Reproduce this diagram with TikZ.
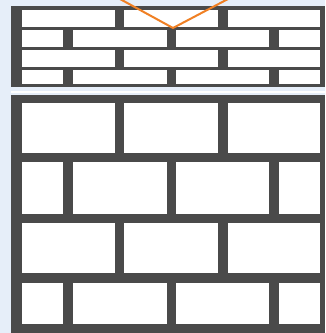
\documentclass[tikz,border=0pt]{standalone}
\begin{document}
\begin{tikzpicture}[x=1pt,y=-1pt]
\definecolor{bgblue}{HTML}{E6EEF9}
\definecolor{mortar}{HTML}{4A4A4A}
\definecolor{vline}{HTML}{F08024}
\tikzset{brick/.style={fill=white,draw=none}}
\useasboundingbox (0,0) rectangle (325,333);
\fill[bgblue] (0,0) rectangle (325,333);
% top wall
\fill[mortar] (11,6) rectangle (325,87);
\foreach \ya/\yb/\t in {10/27/A,30/47/B,50/67/A,70/84/B}{
  \if\t A
    \foreach \xa/\xb in {22/115,124/218,228/320}{\fill[brick] (\xa,\ya) rectangle (\xb,\yb);}
  \else
    \foreach \xa/\xb in {22/63,73/167,176/269,279/320}{\fill[brick] (\xa,\ya) rectangle (\xb,\yb);}
  \fi
}
% separator line
\fill[white] (11,90.5) rectangle (325,93);
% bottom wall
\fill[mortar] (11,95) rectangle (325,333);
\foreach \ya/\yb/\t in {103/153/A,162/214/B,223/273/A,283/324/B}{
  \if\t A
    \foreach \xa/\xb in {22/115,124/218,228/320}{\fill[brick] (\xa,\ya) rectangle (\xb,\yb);}
  \else
    \foreach \xa/\xb in {22/63,73/167,176/269,279/320}{\fill[brick] (\xa,\ya) rectangle (\xb,\yb);}
  \fi
}
% orange V
\coordinate (vl) at (120,-1);
\coordinate (vt) at (173,28);
\coordinate (vr) at (228,-1);
\draw[vline,line width=2pt,line join=miter] (vl) -- (vt) -- (vr);
\end{tikzpicture}
\end{document}
